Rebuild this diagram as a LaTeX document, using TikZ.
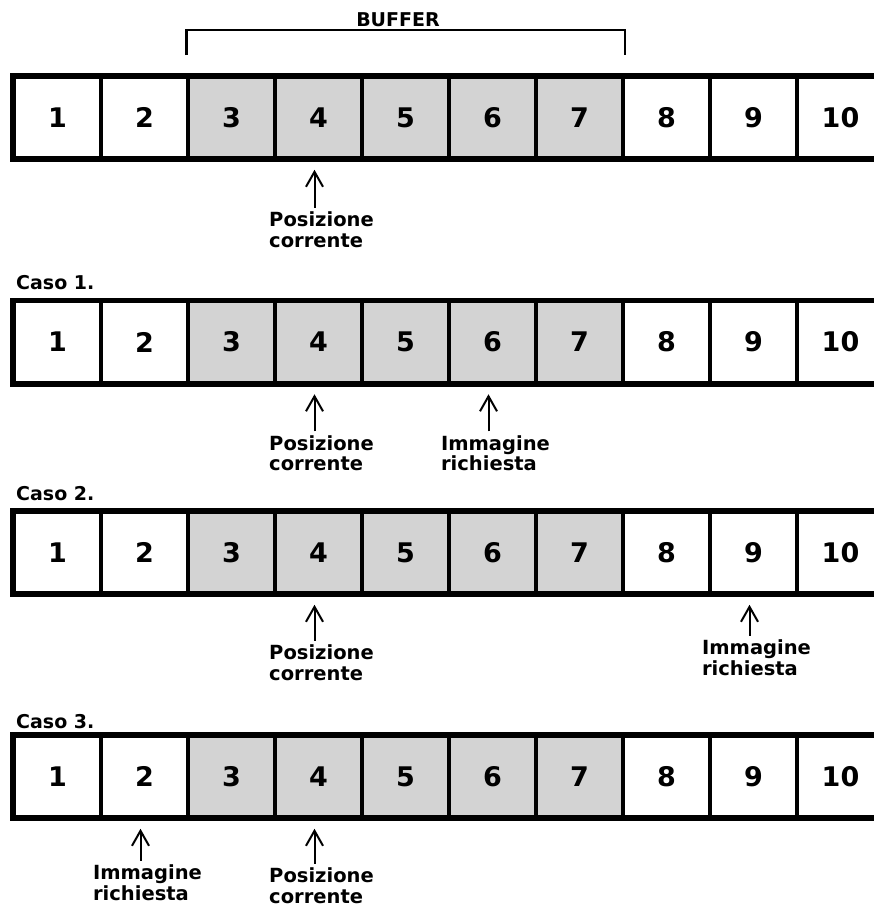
\documentclass[tikz,border=0pt]{standalone}
\usepackage{fontspec}
\setmainfont{DejaVu Sans}
\usetikzlibrary{arrows.meta,calc}
\definecolor{bufgray}{RGB}{211,211,211}
\tikzset{
  cella/.style={draw,line width=3.5pt,minimum width=87pt,minimum height=81pt,inner sep=0pt,font=\fontsize{27}{27}\selectfont\bfseries},
  cornice/.style={line width=4.5pt},
  staffa/.style={line width=2.5pt},
  etich/.style={align=left,inner sep=0pt,anchor=north,font=\fontsize{19.5}{20.5}\selectfont\bfseries},
  caso/.style={anchor=base west,inner sep=0pt,font=\fontsize{19}{19}\selectfont\bfseries},
  freccia/.style={line width=2pt,-{Straight Barb[length=15pt,width=17pt]}}
}
\begin{document}
\begin{tikzpicture}[x=1pt,y=-1pt]
  \useasboundingbox (0,0) rectangle (874,907);
  \clip (0,0) rectangle (874,907);
  % le quattro file di immagini
  \foreach \r/\yc in {1/117.5,2/342,3/552.5,4/776.5}{
    \foreach \c/\f in {1/white,2/white,3/bufgray,4/bufgray,5/bufgray,6/bufgray,7/bufgray,8/white,9/white,10/white}
      \node[cella,fill=\f] (r\r-\c) at (57.5+87*\c-87,\yc) {\c};
    \draw[cornice] (r\r-1.north west) rectangle (r\r-10.south east);
  }
  % buffer
  \node[anchor=base,inner sep=0pt,font=\fontsize{19}{19}\selectfont\bfseries] (buffer) at (398,27) {BUFFER};
  \draw[staffa] ([yshift=20pt]r1-3.north west) -- ++(0,-25) -| ([yshift=20pt]r1-7.north east);
  % casi
  \node[caso] (caso1) at (16,289) {Caso 1.};
  \node[caso] (caso2) at (16,500) {Caso 2.};
  \node[caso] (caso3) at (16,728) {Caso 3.};
  % frecce ed etichette
  \foreach \nome/\cel/\dy/\testo in {
      pc1/r1-4/52/{Posizione\\corrente},
      pc2/r2-4/51/{Posizione\\corrente},
      ir2/r2-6/51/{Immagine\\richiesta},
      pc3/r3-4/50/{Posizione\\corrente},
      ir3/r3-9/45/{Immagine\\richiesta},
      ir4/r4-2/46/{Immagine\\richiesta},
      pc4/r4-4/49/{Posizione\\corrente}}{
    \node[etich] (\nome) at ($(\cel.south)+(3,\dy)$) {\testo};
    \draw[freccia] ($(\nome.north)+(-7,-4)$) -- ($(\nome.north |- \cel.south)+(-7,10)$);
  }
\end{tikzpicture}
\end{document}
